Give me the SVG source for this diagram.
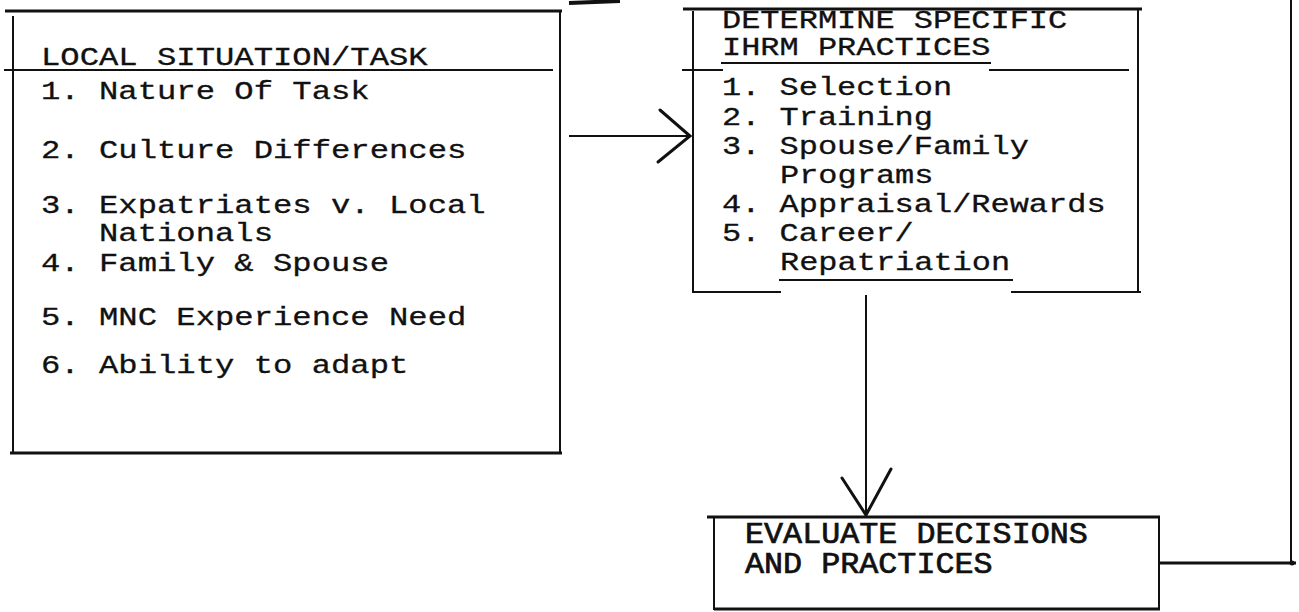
<svg xmlns="http://www.w3.org/2000/svg" width="1299" height="612" viewBox="0 0 1299 612">
<style>
.t{font-family:"Liberation Mono","Courier New",monospace;font-size:26px;fill:#111;stroke:#111;stroke-width:0.3}
.e{font-family:"Liberation Mono","Courier New",monospace;font-size:29px;fill:#111;stroke:#111;stroke-width:0.7}
.b{stroke:#111;stroke-width:2;fill:none;stroke-linecap:square}
.k{stroke:#111;stroke-width:3;fill:none}
.a{stroke:#111;stroke-width:3;fill:none;stroke-linecap:round;stroke-linejoin:miter}
</style>
<rect width="1299" height="612" fill="#fff"/>
<g id="local-situation">
<line class="k" x1="5" y1="11" x2="562" y2="11"/>
<line class="b" x1="13" y1="17" x2="13" y2="453"/>
<line class="b" x1="560" y1="11" x2="560" y2="453"/>
<line class="k" x1="10" y1="453" x2="562" y2="453"/>
<line class="b" x1="5" y1="70" x2="552" y2="70"/>
<text class="t" transform="translate(41,65) scale(1.24,1)">LOCAL SITUATION/TASK</text>
<text class="t" transform="translate(41,99) scale(1.24,1)">1. Nature Of Task</text>
<text class="t" transform="translate(41,158) scale(1.24,1)">2. Culture Differences</text>
<text class="t" transform="translate(41,213) scale(1.24,1)">3. Expatriates v. Local</text>
<text class="t" transform="translate(99,241) scale(1.24,1)">Nationals</text>
<text class="t" transform="translate(41,271) scale(1.24,1)">4. Family &amp; Spouse</text>
<text class="t" transform="translate(41,325) scale(1.24,1)">5. MNC Experience Need</text>
<text class="t" transform="translate(41,373) scale(1.24,1)">6. Ability to adapt</text>
</g>
<g id="ihrm-practices">
<line class="k" x1="683" y1="9" x2="1142" y2="9"/>
<line class="b" x1="693" y1="12" x2="693" y2="292"/>
<line class="b" x1="1138" y1="9" x2="1138" y2="292"/>
<line class="b" x1="683" y1="70" x2="722" y2="70"/>
<line class="b" x1="722" y1="63" x2="990" y2="63"/>
<line class="b" x1="990" y1="70" x2="1128" y2="70"/>
<line class="b" x1="693" y1="292" x2="780" y2="292"/>
<line class="b" x1="780" y1="280" x2="1012" y2="280"/>
<line class="b" x1="1012" y1="292" x2="1140" y2="292"/>
<text class="t" transform="translate(722,28) scale(1.23,1)">DETERMINE SPECIFIC</text>
<text class="t" transform="translate(722,55) scale(1.23,1)">IHRM PRACTICES</text>
<text class="t" transform="translate(722,95) scale(1.23,1)">1. Selection</text>
<text class="t" transform="translate(722,125) scale(1.23,1)">2. Training</text>
<text class="t" transform="translate(722,154) scale(1.23,1)">3. Spouse/Family</text>
<text class="t" transform="translate(780,183) scale(1.23,1)">Programs</text>
<text class="t" transform="translate(722,212) scale(1.23,1)">4. Appraisal/Rewards</text>
<text class="t" transform="translate(722,241) scale(1.23,1)">5. Career/</text>
<text class="t" transform="translate(780,270) scale(1.23,1)">Repatriation</text>
</g>
<g id="evaluate">
<line class="k" x1="707" y1="517" x2="1160" y2="517"/>
<line class="b" x1="714" y1="517" x2="714" y2="609"/>
<line class="b" x1="1159" y1="517" x2="1159" y2="609"/>
<line class="k" x1="714" y1="609" x2="1160" y2="609"/>
<text class="e" transform="translate(745,543) scale(1.095,1)">EVALUATE DECISIONS</text>
<text class="e" transform="translate(745,573) scale(1.095,1)">AND PRACTICES</text>
</g>
<g id="connectors">
<line class="b" x1="570" y1="136" x2="690" y2="136"/>
<polyline class="a" points="660,110 690,136 658,162"/>
<line class="b" x1="866" y1="296" x2="866" y2="514"/>
<polyline class="a" points="842,478 866,515 891,469"/>
<line stroke="#111" stroke-width="4" x1="569" y1="3" x2="620" y2="1"/>
<line class="b" x1="1291" y1="0" x2="1291" y2="563"/>
<line class="k" x1="1160" y1="563" x2="1296" y2="563"/>
<circle cx="1292" cy="563" r="2.5" fill="#111"/>
</g>
</svg>
